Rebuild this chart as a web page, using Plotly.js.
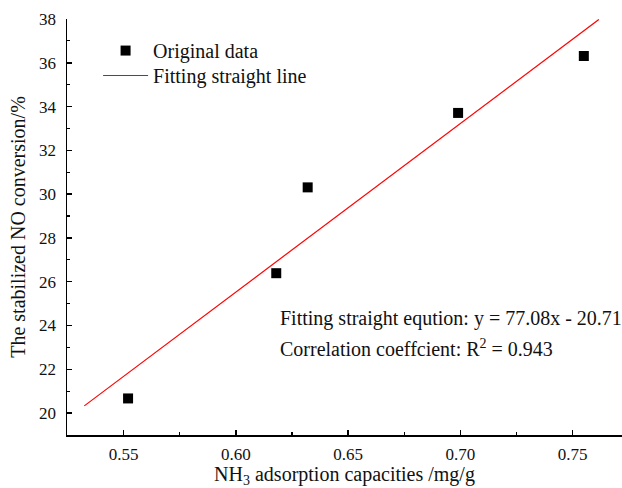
<!DOCTYPE html>
<html>
<head>
<meta charset="utf-8">
<script src="https://cdn.plot.ly/plotly-3.0.1.min.js"></script>
<style>html,body{margin:0;padding:0;background:#fff;}#chart{width:622px;height:488px;}</style>
</head>
<body>
<div id="chart"></div>
<script>
var dataX = [0.552, 0.618, 0.632, 0.699, 0.755];
var dataY = [20.67, 26.39, 30.31, 33.71, 36.31];
var fitX = [0.5325, 0.7617];
var fitY = [20.33, 37.98];
var equationText = "Fitting straight eqution: y = 77.08x - 20.71";
var corrText = "Correlation coeffcient: R<sup>2</sup> = 0.943";
var xTitle = "NH<sub>3</sub> adsorption capacities /mg/g";
var yTitle = "The stabilized NO conversion/%";

var font = "Liberation Serif";

var traces = [
  {x: dataX, y: dataY, type: "scatter", mode: "markers", name: "Original data",
   marker: {symbol: "square", size: 10, color: "#000"}, legend: "legend"},
  {x: fitX, y: fitY, type: "scatter", mode: "lines", name: "Fitting straight line",
   line: {color: "#ff0000", width: 1.2}, legend: "legend2"}
];

var axisCommon = {
  showline: true, linecolor: "#000", linewidth: 1.5, mirror: false,
  ticks: "inside", ticklen: 5, tickwidth: 1.5, tickcolor: "#000",
  showgrid: false, zeroline: false,
  tickfont: {family: font, size: 17, color: "#111"},
  minor: {ticks: "inside", ticklen: 3, tickwidth: 1.2, tickcolor: "#000", showgrid: false}
};

var legendCommon = {xanchor: "left", yanchor: "top", bgcolor: "rgba(0,0,0,0)",
  itemwidth: 45, font: {family: font, size: 20, color: "#111"}};

var layout = {
  width: 622, height: 488,
  margin: {l: 67, r: 0, t: 19, b: 53},
  paper_bgcolor: "#fff", plot_bgcolor: "#fff",
  font: {family: font, color: "#000"},
  showlegend: true,
  legend: Object.assign({}, legendCommon, {x: 0.056, y: 0.971}),
  legend2: Object.assign({}, legendCommon, {x: 0.056, y: 0.911}),
  xaxis: Object.assign({}, axisCommon, {
    range: [0.5248, 0.772], tick0: 0.55, dtick: 0.05, tickformat: ".2f",
    minor: Object.assign({}, axisCommon.minor, {dtick: 0.025}),
    ticklabelstandoff: 3,
    title: {text: xTitle, font: {family: font, size: 20, color: "#111"}, standoff: 5}
  }),
  yaxis: Object.assign({}, axisCommon, {
    range: [19, 38], tick0: 20, dtick: 2,
    minor: Object.assign({}, axisCommon.minor, {dtick: 1}),
    title: {text: yTitle, font: {family: font, size: 20, color: "#111"}, standoff: 8},
    ticklabelstandoff: 6
  }),
  annotations: [
    {xref: "paper", yref: "paper", x: 0.38, y: 0.279, xanchor: "left", yanchor: "middle",
     text: equationText, showarrow: false, font: {family: font, size: 20, color: "#111"}},
    {xref: "paper", yref: "paper", x: 0.38, y: 0.209, xanchor: "left", yanchor: "middle",
     text: corrText, showarrow: false, font: {family: font, size: 20, color: "#111"}}
  ]
};

Plotly.newPlot("chart", traces, layout, {displayModeBar: false, staticPlot: true});
</script>
</body>
</html>
